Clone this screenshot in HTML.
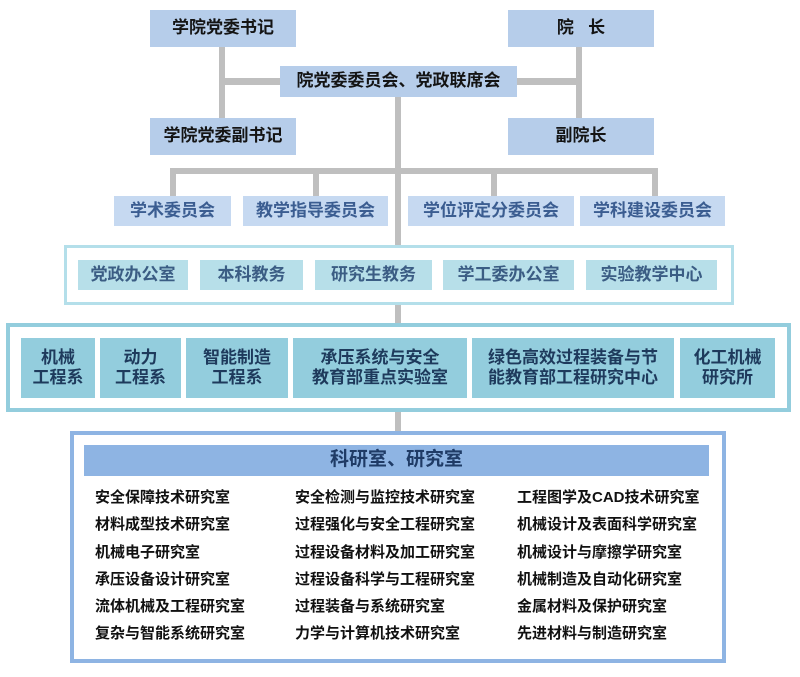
<!DOCTYPE html>
<html><head><meta charset="utf-8"><style>
body{margin:0;width:800px;height:677px;background:#fff;position:relative;overflow:hidden;font-family:"Liberation Sans","Noto Sans CJK SC",sans-serif;font-weight:bold}
.a{position:absolute;box-sizing:border-box}
.b{display:flex;align-items:center;justify-content:center;text-align:center;line-height:1.2}
.top{background:#b6cdea;color:#141414;font-size:17px}
.cm{background:#c6d9f1;color:#3b5d91;font-size:17px}
.of{background:#b7dfe9;color:#3b5d84;font-size:17px}
.dp{background:#93cddd;color:#1e3a5c;font-size:17px}
.ln{background:#bfbfbf}
.t{position:absolute;font-size:15px;color:#111;white-space:nowrap;line-height:18px}
</style></head><body>
<!-- lines -->
<div class="a ln" style="left:219px;top:47px;width:6px;height:72px"></div>
<div class="a ln" style="left:576px;top:47px;width:6px;height:72px"></div>
<div class="a ln" style="left:222px;top:78px;width:60px;height:7px"></div>
<div class="a ln" style="left:516px;top:78px;width:63px;height:7px"></div>
<div class="a ln" style="left:395px;top:97px;width:6px;height:336px"></div>
<div class="a ln" style="left:170px;top:168px;width:488px;height:6px"></div>
<div class="a ln" style="left:170px;top:168px;width:6px;height:29px"></div>
<div class="a ln" style="left:313px;top:168px;width:6px;height:29px"></div>
<div class="a ln" style="left:491px;top:168px;width:6px;height:29px"></div>
<div class="a ln" style="left:652px;top:168px;width:6px;height:29px"></div>

<div class="a b top" style="left:150px;top:10px;width:146px;height:37px">学院党委书记</div>
<div class="a b top" style="left:508px;top:10px;width:146px;height:37px">院&nbsp;&nbsp;&nbsp;长</div>
<div class="a b top" style="left:280px;top:66px;width:237px;height:31px">院党委委员会、党政联席会</div>
<div class="a b top" style="left:150px;top:118px;width:146px;height:37px">学院党委副书记</div>
<div class="a b top" style="left:508px;top:118px;width:146px;height:37px">副院长</div>

<div class="a b cm" style="left:114px;top:196px;width:117px;height:30px">学术委员会</div>
<div class="a b cm" style="left:243px;top:196px;width:145px;height:30px">教学指导委员会</div>
<div class="a b cm" style="left:408px;top:196px;width:166px;height:30px">学位评定分委员会</div>
<div class="a b cm" style="left:580px;top:196px;width:145px;height:30px">学科建设委员会</div>

<div class="a" style="left:64px;top:245px;width:670px;height:60px;border:3px solid #b4dfea;background:#fff"></div>
<div class="a b of" style="left:78px;top:260px;width:110px;height:30px">党政办公室</div>
<div class="a b of" style="left:200px;top:260px;width:103px;height:30px">本科教务</div>
<div class="a b of" style="left:315px;top:260px;width:117px;height:30px">研究生教务</div>
<div class="a b of" style="left:443px;top:260px;width:131px;height:30px">学工委办公室</div>
<div class="a b of" style="left:586px;top:260px;width:131px;height:30px">实验教学中心</div>
<div class="a ln" style="left:395px;top:305px;width:6px;height:18px"></div>

<div class="a" style="left:6px;top:323px;width:785px;height:89px;border:4px solid #93cddd;background:#fff"></div>
<div class="a b dp" style="left:21px;top:338px;width:74px;height:60px">机械<br>工程系</div>
<div class="a b dp" style="left:100px;top:338px;width:81px;height:60px">动力<br>工程系</div>
<div class="a b dp" style="left:186px;top:338px;width:102px;height:60px">智能制造<br>工程系</div>
<div class="a b dp" style="left:293px;top:338px;width:174px;height:60px">承压系统与安全<br>教育部重点实验室</div>
<div class="a b dp" style="left:472px;top:338px;width:202px;height:60px">绿色高效过程装备与节<br>能教育部工程研究中心</div>
<div class="a b dp" style="left:680px;top:338px;width:95px;height:60px">化工机械<br>研究所</div>
<div class="a ln" style="left:395px;top:412px;width:6px;height:20px"></div>

<div class="a" style="left:70px;top:431px;width:656px;height:232px;border:4px solid #8eb4e3;background:#fff"></div>
<div class="a b" style="left:84px;top:445px;width:625px;height:31px;background:#8eb4e3;color:#1f3b66;font-size:19px">科研室、研究室</div>

<div class="t" style="left:95px;top:489px">安全保障技术研究室</div>
<div class="t" style="left:95px;top:516px">材料成型技术研究室</div>
<div class="t" style="left:95px;top:544px">机械电子研究室</div>
<div class="t" style="left:95px;top:571px">承压设备设计研究室</div>
<div class="t" style="left:95px;top:598px">流体机械及工程研究室</div>
<div class="t" style="left:95px;top:625px">复杂与智能系统研究室</div>
<div class="t" style="left:295px;top:489px">安全检测与监控技术研究室</div>
<div class="t" style="left:295px;top:516px">过程强化与安全工程研究室</div>
<div class="t" style="left:295px;top:544px">过程设备材料及加工研究室</div>
<div class="t" style="left:295px;top:571px">过程设备科学与工程研究室</div>
<div class="t" style="left:295px;top:598px">过程装备与系统研究室</div>
<div class="t" style="left:295px;top:625px">力学与计算机技术研究室</div>
<div class="t" style="left:517px;top:489px">工程图学及CAD技术研究室</div>
<div class="t" style="left:517px;top:516px">机械设计及表面科学研究室</div>
<div class="t" style="left:517px;top:544px">机械设计与摩擦学研究室</div>
<div class="t" style="left:517px;top:571px">机械制造及自动化研究室</div>
<div class="t" style="left:517px;top:598px">金属材料及保护研究室</div>
<div class="t" style="left:517px;top:625px">先进材料与制造研究室</div>
</body></html>
